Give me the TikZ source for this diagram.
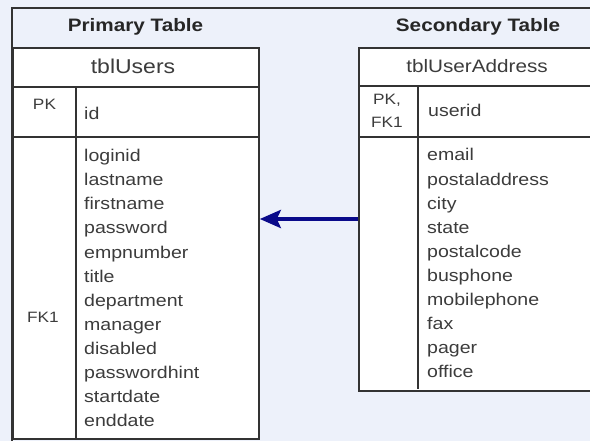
\documentclass[tikz,border=0pt]{standalone}
\usepackage{fontspec}
\setmainfont{Liberation Sans}[FakeStretch=1.15]
\usetikzlibrary{arrows.meta}
\definecolor{bgblue}{HTML}{EDF1FA}
\definecolor{linegray}{HTML}{333333}
\definecolor{txtgray}{HTML}{3C3C3C}
\definecolor{navyarrow}{HTML}{0A0A8A}
\begin{document}
\begin{tikzpicture}[x=1pt,y=-1pt,
  tbl/.style={draw=linegray, line width=1.8pt, fill=white, inner sep=0pt, anchor=north west},
  tline/.style={draw=linegray, line width=1.8pt},
  frameline/.style={draw=linegray, line width=1.8pt},
  paneltitle/.style={font=\fontsize{18}{20}\selectfont\bfseries, text=black!85, anchor=base, inner sep=0pt},
  tbltitle/.style={font=\fontsize{20}{22}\selectfont, text=txtgray, anchor=base, inner sep=0pt},
  keytxt/.style={font=\fontsize{15}{17}\selectfont, text=txtgray, anchor=base, inner sep=0pt},
  fieldtxt/.style={font=\fontsize{17}{19}\selectfont, text=txtgray, anchor=base west, inner sep=0pt},
  fk/.style={draw=navyarrow, line width=4pt, -{Stealth[length=21pt,width=18pt,inset=4pt]}}
]
\useasboundingbox (0,0) rectangle (590,441);
\fill[bgblue] (0,0) rectangle (590,441);
% outer frame
\draw[frameline] (12,445) -- (12,8) -- (600,8);
% panel titles
\node[paneltitle] (ptitle) at (135.5,31.5) {Primary Table};
\node[paneltitle] (stitle) at (478,31.5) {Secondary Table};
% primary table
\node[tbl, minimum width=246pt, minimum height=391pt] (tusers) at (12,47) {};
\draw[tline] (12,87) -- (258,87);
\draw[tline] (12,137) -- (258,137);
\draw[tline] (76,87) -- (76,438);
\node[tbltitle] (tuname) at (133,74) {tblUsers};
\node[keytxt] (upk) at (44.5,110) {PK};
\node[fieldtxt] (uid) at (84,120) {id};
\node[keytxt] (ufk) at (43,323) {FK1};
\foreach \f [count=\i from 0] in {loginid,lastname,firstname,password,empnumber,title,department,manager,disabled,passwordhint,startdate,enddate}{
  \node[fieldtxt] (uf\i) at (84,161.7+24.1*\i) {\f};
}
% secondary table
\node[tbl, minimum width=250pt, minimum height=343pt] (taddr) at (358,47) {};
\draw[tline] (358,86) -- (608,86);
\draw[tline] (358,137) -- (608,137);
\draw[tline] (418,86) -- (418,389);
\node[tbltitle, font=\fontsize{18}{20}\selectfont] (taname) at (477,72.5) {tblUserAddress};
\node[keytxt] (apk) at (387,105) {PK,};
\node[keytxt] (afk) at (387,127.5) {FK1};
\node[fieldtxt] (auid) at (428,116.5) {userid};
\foreach \f [count=\i from 0] in {email,postaladdress,city,state,postalcode,busphone,mobilephone,fax,pager,office}{
  \node[fieldtxt] (af\i) at (427,161+24.1*\i) {\f};
}
% relationship
\coordinate (ay) at (0,219);
\draw[fk] (taddr.west |- ay) -- (tusers.east |- ay);
\end{tikzpicture}
\end{document}
